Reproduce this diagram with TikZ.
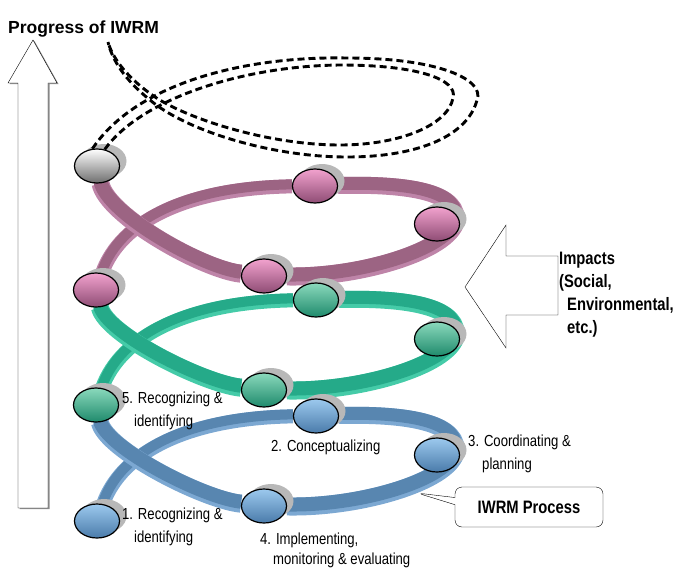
\documentclass[tikz,border=0pt]{standalone}
\usepackage{fontspec}
\setmainfont{Liberation Sans}
\newfontfamily\narrowfont[FakeStretch=0.82]{Liberation Sans}
\usetikzlibrary{backgrounds,calc,shapes,shadows,arrows,positioning}

\definecolor{bluetop}{HTML}{9CC9EE}
\definecolor{bluebot}{HTML}{4A7BAA}
\definecolor{bluelight}{HTML}{7CA8D2}
\definecolor{bluedark}{HTML}{5886B0}
\definecolor{greentop}{HTML}{8AD9BC}
\definecolor{greenbot}{HTML}{1F8A6C}
\definecolor{greenlight}{HTML}{45CBA8}
\definecolor{greendark}{HTML}{25AA89}
\definecolor{pinktop}{HTML}{F2A2CE}
\definecolor{pinkbot}{HTML}{8E4C74}
\definecolor{pinklight}{HTML}{BE84A8}
\definecolor{pinkdark}{HTML}{9C6483}
\definecolor{graybot}{HTML}{6E6E6E}

\begin{document}
\begin{tikzpicture}[x=1pt,y=-1pt,>=stealth]
    \tikzstyle{stage}=[ellipse,draw=black,line width=1.2pt,minimum width=45pt,minimum height=34pt,inner sep=0pt,general shadow={shadow xshift=7pt,shadow yshift=5pt,fill=black!28}]
    \tikzstyle{bluestage}=[stage,top color=bluetop,bottom color=bluebot]
    \tikzstyle{greenstage}=[stage,top color=greentop,bottom color=greenbot]
    \tikzstyle{pinkstage}=[stage,top color=pinktop,bottom color=pinkbot]
    \tikzset{rib/.style n args={3}{line cap=butt,line width=#1,draw=#2,
        preaction={draw=black!22,transform canvas={xshift=1pt,yshift=-3pt}},
        postaction={draw=#3,line width=#1-4pt,transform canvas={yshift=2pt}}}}
    \tikzstyle{lbl}=[anchor=north west,inner sep=0pt,align=left,font=\narrowfont\fontsize{16}{23}\selectfont]
    \tikzstyle{future}=[dash pattern=on 7pt off 4pt,line width=2.9pt]

    \useasboundingbox (0,0) rectangle (677,570);

    \node[anchor=base west,inner sep=0pt,font=\bfseries\fontsize{17.5}{20}\selectfont] (title) at (8,33) {Progress of IWRM};
    \draw[fill=white,general shadow={shadow xshift=1.5pt,shadow yshift=-1pt,fill=black!45}] (18,508) -- (18,83) -- (8,83) -- (33,40) -- (57,83) -- (48,83) -- (48,508) -- cycle;

    \node[bluestage] (b1) at (97,521) {};
    \node[bluestage] (b2) at (316,416) {};
    \node[bluestage] (b3) at (437,455) {};
    \node[bluestage] (b4) at (264,506) {};
    \node[greenstage] (g1) at (96,405) {};
    \node[greenstage] (g2) at (316,300) {};
    \node[greenstage] (g3) at (437,339) {};
    \node[greenstage] (g4) at (264,390) {};
    \node[pinkstage] (p1) at (96,290) {};
    \node[pinkstage] (p2) at (315,186) {};
    \node[pinkstage] (p3) at (437,224) {};
    \node[pinkstage] (p4) at (264,276) {};
    \node[stage,top color=white,bottom color=graybot] (w1) at (97,166) {};

    \begin{pgfonlayer}{background}
      \coordinate (b3r) at ($(b3)+(19,-6)$);
      \coordinate (g3r) at ($(g3)+(19,-6)$);
      \coordinate (p3r) at ($(p3)+(19,-6)$);
      \draw[rib={14pt}{bluelight}{bluedark}] (b1) .. controls +(25,-70) and +(-126,2) .. (b2);
      \draw[rib={17pt}{bluelight}{bluedark}] (b2) .. controls +(85,-2) and +(0,-28) .. (b3r);
      \draw[rib={18pt}{bluelight}{bluedark}] (b3r) .. controls +(0,30) and +(100,2) .. (b4);
      \draw[rib={18pt}{bluelight}{bluedark}] (b4) .. controls +(-60,-6) and +(10,45) .. (g1);
      \draw[rib={14pt}{greenlight}{greendark}] (g1) .. controls +(25,-70) and +(-126,2) .. (g2);
      \draw[rib={17pt}{greenlight}{greendark}] (g2) .. controls +(85,-2) and +(0,-28) .. (g3r);
      \draw[rib={18pt}{greenlight}{greendark}] (g3r) .. controls +(0,30) and +(100,2) .. (g4);
      \draw[rib={18pt}{greenlight}{greendark}] (g4) .. controls +(-60,-6) and +(10,45) .. (p1);
      \draw[rib={14pt}{pinklight}{pinkdark}] (p1) .. controls +(25,-70) and +(-126,2) .. (p2);
      \draw[rib={17pt}{pinklight}{pinkdark}] (p2) .. controls +(85,-2) and +(0,-28) .. (p3r);
      \draw[rib={18pt}{pinklight}{pinkdark}] (p3r) .. controls +(0,30) and +(100,2) .. (p4);
      \draw[rib={18pt}{pinklight}{pinkdark}] (p4) .. controls +(-60,-6) and +(10,50) .. (w1);
    \end{pgfonlayer}

    \coordinate (pend) at (108,42);
    \draw[future] (w1.105) .. controls (135,85) and (240,56) .. (347,58) .. controls (440,58) and (485,80) .. (477,100) .. controls (468,135) and (420,157) .. (347,157) .. controls (270,157) and (185,130) .. (150,100) .. controls (125,80) and (112,60) .. (pend);
    \draw[future] (w1.65) .. controls (140,100) and (240,66) .. (340,65) .. controls (420,65) and (458,80) .. (453,98) .. controls (448,125) and (400,145) .. (340,145) .. controls (270,145) and (190,120) .. (155,97) .. controls (130,80) and (113,60) .. (pend);

    \node[lbl] (l5) at (122,392) {5. Recognizing \&\\\hspace*{12pt}identifying};
    \node[lbl] (l1) at (122,508) {1. Recognizing \&\\\hspace*{12pt}identifying};
    \node[lbl] (l2) at (271,440) {2. Conceptualizing};
    \node[lbl] (l3) at (468,435) {3. Coordinating \&\\\hspace*{14pt}planning};
    \node[lbl,font=\narrowfont\fontsize{16}{20}\selectfont] (l4) at (260,533) {4. Implementing,\\\hspace*{13pt}monitoring \& evaluating};

    \draw[thin,fill=white] (465,287) -- (506,225) -- (506,256) -- (558,256) -- (558,315) -- (506,315) -- (506,348) -- cycle;
    \node[anchor=north west,inner sep=0pt,align=left,font=\narrowfont\bfseries\fontsize{18}{23}\selectfont] (impacts) at (559,252) {Impacts\\(Social,\\\hspace*{8pt}Environmental,\\\hspace*{8pt}etc.)};

    \coordinate (tip) at (417,493);
    \node[rectangle callout,draw,thin,fill=white,rounded corners=7pt,minimum width=148pt,minimum height=40pt,inner sep=0pt,callout absolute pointer={(tip)},font=\narrowfont\bfseries\fontsize{18}{22}\selectfont] (proc) at (529,507) {IWRM Process};
\end{tikzpicture}
\end{document}
